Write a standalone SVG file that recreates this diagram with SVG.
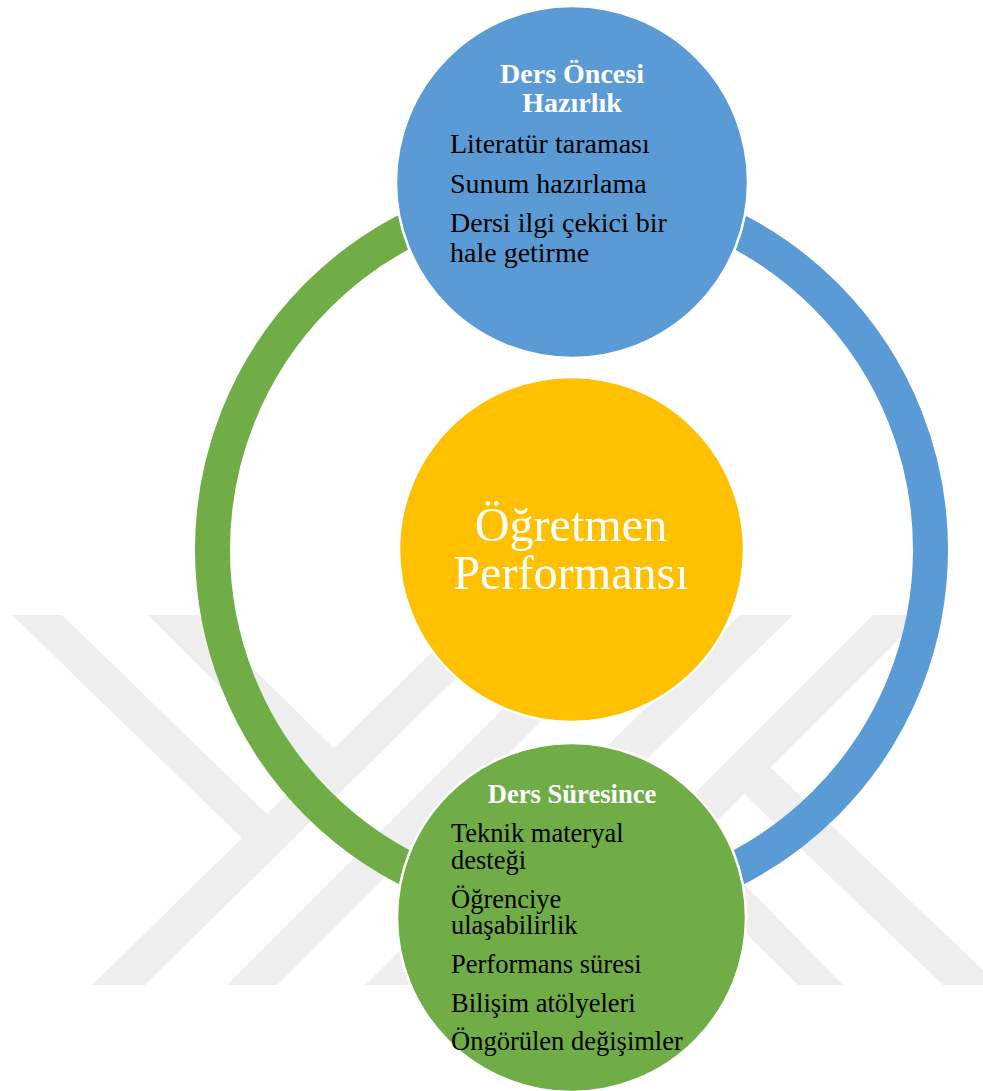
<svg xmlns="http://www.w3.org/2000/svg" width="983" height="1091" viewBox="0 0 983 1091">
<style>
text{font-family:"Liberation Serif","Times New Roman",serif}
.wm{fill:#eeeeee}
.arc{fill:none;stroke-width:35}
.node{stroke:#fff;stroke-width:2.5}
.h{font-size:28px;font-weight:bold;fill:#fff;text-anchor:middle}
.h2{font-size:26.6px}
.b{font-size:28px;fill:#000}
.b2{font-size:26.5px}
.c{font-size:48.2px;fill:#fff;text-anchor:middle}
</style>
<rect width="983" height="1091" fill="#fff"/>
<g id="watermark" class="wm">
<polygon points="12,615 62,615 270,817 247,843"/>
<polygon points="148,615 198,615 335,749 312,779"/>
<polygon points="92,985 145,985 520,615 470,615"/>
<polygon points="227,985 277,985 647,615 597,615"/>
<polygon points="365,985 418,985 793,615 740,615"/>
<polygon points="503,985 553,985 923,615 873,615"/>
<polygon points="770,767 983,970 983,985 943,985 743,793"/>
<polygon points="700,840 747,887 843,985 798,985 700,888"/>
</g>
<g id="connectors">
<path class="arc" stroke="#5b9bd5" d="M571.5 190.5A359 359 0 0 1 571.5 908.5"/>
<path class="arc" stroke="#70ad47" d="M571.5 908.5A359 359 0 0 1 571.5 190.5"/>
</g>
<g id="node-oncesi">
<circle class="node" cx="572" cy="182" r="176" fill="#5b9bd5"/>
<text class="h" x="572" y="83">Ders Öncesi</text>
<text class="h" x="572" y="112">Hazırlık</text>
<text class="b" x="450" y="153">Literatür taraması</text>
<text class="b" x="450" y="193">Sunum hazırlama</text>
<text class="b" x="450" y="232">Dersi ilgi çekici bir</text>
<text class="b" x="450" y="262">hale getirme</text>
</g>
<g id="node-performans">
<circle class="node" cx="571.5" cy="549.5" r="172.5" fill="#ffc000"/>
<text class="c" x="571" y="541">Öğretmen</text>
<text class="c" x="571" y="589">Performansı</text>
</g>
<g id="node-suresince">
<circle class="node" cx="571.5" cy="917.5" r="174.5" fill="#70ad47"/>
<text class="h h2" x="572" y="802.5">Ders Süresince</text>
<text class="b b2" x="451" y="842">Teknik materyal</text>
<text class="b b2" x="451" y="868.5">desteği</text>
<text class="b b2" x="451" y="908">Öğrenciye</text>
<text class="b b2" x="451" y="934">ulaşabilirlik</text>
<text class="b b2" x="451" y="973">Performans süresi</text>
<text class="b b2" x="451" y="1012">Bilişim atölyeleri</text>
<text class="b b2" x="451" y="1050">Öngörülen değişimler</text>
</g>
</svg>
